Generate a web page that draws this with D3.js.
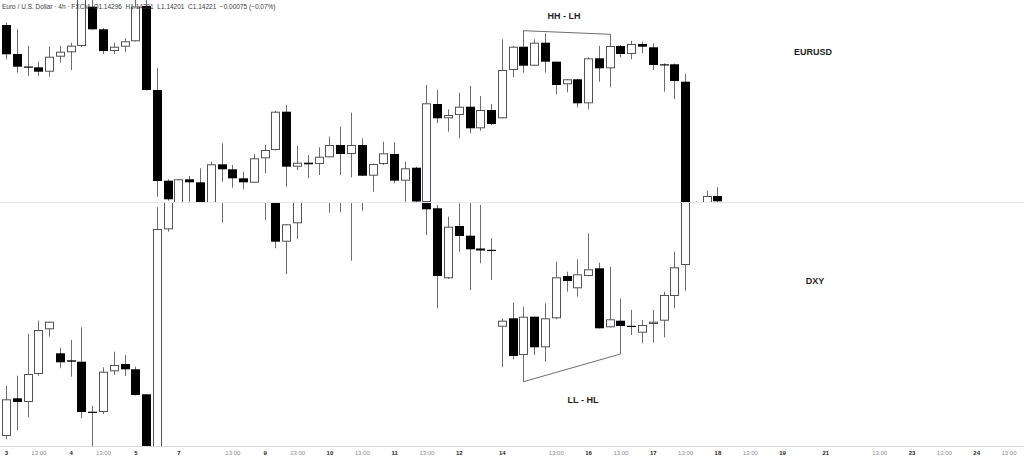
<!DOCTYPE html>
<html><head><meta charset="utf-8">
<script src="https://cdn.jsdelivr.net/npm/d3@7/dist/d3.min.js"></script>
<style>
html,body{margin:0;padding:0;background:#fff;}
svg{display:block;font-family:"Liberation Sans",Arial,Helvetica,sans-serif;}
</style></head>
<body>
<svg id="chart" width="1024" height="458"></svg>
<script>
// ---- data ----
const headerText = "Euro / U.S. Dollar · 4h · FXCM  O1.14296  H1.14301  L1.14201  C1.14221  −0.00075 (−0.07%)";
// x-axis ticks: candle index and label
const tickIndex = [0,3,6,9,12,16,21,24,27,30,33,36,39,42,46,51,54,57,60,63,66,69,72,76,81,84,87,90,93];
const tickLabels = ["3","13:00","4","13:00","5","7","13:00","9","13:00","10","13:00","11","13:00","12","14","13:00","16","13:00","17","13:00","18","13:00","19","21","13:00","23","13:00","24","13:00"];

// EURUSD 4h OHLC
const eurOpen  = [1.15950,1.15660,1.15535,1.15527,1.15483,1.15633,1.15677,1.15740,1.16133,1.15907,1.15690,1.15733,1.15787,1.16140,1.15300,1.14393,1.14160,1.14407,1.14377,1.14160,1.14557,1.14507,1.14417,1.14373,1.14617,1.14700,1.15083,1.14533,1.14573,1.14560,1.14627,1.14750,1.14660,1.14750,1.14443,1.14560,1.14660,1.14393,1.14523,1.14180,1.15160,1.15017,1.15050,1.15133,1.14917,1.15100,1.15017,1.15500,1.15733,1.15543,1.15773,1.15583,1.15357,1.15407,1.15167,1.15617,1.15517,1.15740,1.15660,1.15760,1.15727,1.15557,1.15557,1.15383,1.13920,1.14140,1.14240];
const eurHigh  = [1.15973,1.15907,1.15740,1.15583,1.15733,1.15740,1.15773,1.16280,1.16250,1.15920,1.15773,1.15817,1.16260,1.16240,1.15517,1.14407,1.14410,1.14440,1.14517,1.14583,1.14767,1.14550,1.14483,1.14660,1.14750,1.15093,1.15150,1.14740,1.14650,1.14727,1.14833,1.14933,1.15073,1.14817,1.14565,1.14783,1.14777,1.14583,1.14533,1.15350,1.15300,1.15107,1.15273,1.15340,1.15240,1.15160,1.15807,1.15740,1.15893,1.15807,1.15867,1.15585,1.15410,1.15410,1.15627,1.15740,1.15840,1.15750,1.15793,1.15783,1.15767,1.15567,1.15565,1.15460,1.14185,1.14293,1.14327];
const eurLow   = [1.15607,1.15473,1.15440,1.15443,1.15433,1.15573,1.15500,1.15730,1.15900,1.15660,1.15660,1.15683,1.15785,1.15295,1.14233,1.14193,1.14140,1.14150,1.14100,1.14140,1.14383,1.14323,1.14307,1.14370,1.14467,1.14695,1.14333,1.14500,1.14420,1.14450,1.14625,1.14450,1.14427,1.14441,1.14283,1.14550,1.14367,1.14183,1.14180,1.14160,1.14967,1.14883,1.14817,1.14867,1.14893,1.14950,1.15015,1.15427,1.15473,1.15540,1.15473,1.15257,1.15277,1.15127,1.15107,1.15383,1.15327,1.15627,1.15607,1.15667,1.15500,1.15283,1.15207,1.13800,1.13880,1.14120,1.14170];
const eurClose = [1.15657,1.15533,1.15530,1.15483,1.15633,1.15683,1.15743,1.16210,1.15907,1.15690,1.15733,1.15787,1.16135,1.15300,1.14390,1.14207,1.14407,1.14377,1.14150,1.14557,1.14507,1.14417,1.14377,1.14617,1.14700,1.15083,1.14533,1.14573,1.14557,1.14633,1.14750,1.14660,1.14750,1.14443,1.14560,1.14667,1.14393,1.14517,1.14185,1.15167,1.15017,1.15050,1.15133,1.14917,1.15100,1.14960,1.15500,1.15733,1.15543,1.15773,1.15583,1.15350,1.15407,1.15167,1.15617,1.15517,1.15740,1.15660,1.15760,1.15733,1.15550,1.15554,1.15390,1.13900,1.14140,1.14240,1.14187];

// DXY 4h OHLC
const dxyOpen  = [97.670,98.047,98.010,98.290,98.737,98.497,98.427,98.413,97.913,97.910,98.317,98.390,98.337,98.087,97.330,99.737,100.080,100.230,100.180,100.330,100.080,100.130,100.230,100.250,100.080,100.050,99.613,99.797,100.080,100.050,100.150,100.070,100.180,100.090,100.110,100.050,100.130,100.080,100.040,100.480,99.947,99.247,99.770,99.673,99.545,99.532,98.763,98.847,98.480,98.863,98.557,98.847,99.270,99.147,99.270,99.347,98.757,98.823,98.772,98.703,98.790,98.823,99.070,99.380,100.080,100.130,100.080];
const dxyHigh  = [98.170,98.273,98.690,98.823,98.815,98.553,98.630,98.757,97.970,98.357,98.513,98.480,98.363,98.090,99.957,100.130,100.330,100.280,100.380,100.350,100.180,100.280,100.310,100.280,100.180,100.130,99.790,100.130,100.180,100.230,100.210,100.230,100.330,100.180,100.150,100.180,100.160,100.130,100.530,100.530,99.980,99.863,99.997,100.003,99.980,99.647,98.847,99.003,98.963,98.865,98.997,99.413,99.313,99.437,99.697,99.403,99.363,99.047,98.930,98.830,98.930,99.113,99.513,100.130,100.230,100.180,100.150];
const dxyLow   = [97.637,97.730,97.857,98.273,98.663,98.347,98.263,97.847,97.510,97.890,98.280,98.270,98.075,97.330,97.280,99.713,100.030,100.050,100.080,100.030,99.803,100.050,100.130,100.030,99.830,99.547,99.290,99.640,100.030,100.020,99.903,99.907,99.423,99.923,100.030,100.020,100.030,100.020,100.030,99.680,98.947,99.240,99.513,99.130,99.397,99.230,98.357,98.437,98.213,98.480,98.413,98.837,99.113,99.063,99.267,98.745,98.755,98.490,98.680,98.597,98.603,98.657,98.947,99.123,100.030,100.040,100.030];
const dxyClose = [98.037,98.010,98.290,98.730,98.813,98.407,98.413,97.910,97.907,98.313,98.380,98.337,98.080,97.430,99.740,100.080,100.230,100.180,100.330,100.080,100.130,100.230,100.250,100.080,100.050,99.613,99.787,100.080,100.050,100.150,100.070,100.180,100.090,100.110,100.050,100.130,100.080,100.040,100.480,99.937,99.270,99.763,99.670,99.537,99.525,99.522,98.823,98.470,98.863,98.557,98.847,99.257,99.220,99.287,99.337,98.747,98.837,98.770,98.768,98.780,98.813,99.080,99.357,100.080,100.130,100.080,100.070];

// annotations: [candle index, price]
const hhLhPath = [[48,1.15733],[48,1.15893],[56,1.15857],[56,1.15740]];
const llHlPath = [[48,98.480],[48,98.213],[57,98.490],[57,98.770]];

// ---- drawing ----
const svg = d3.select("#chart");
const W = 1024;
const topPane = {y0:0, y1:202};
const botPane = {y0:203, y1:446};

const x = d3.scaleLinear().domain([0,93]).range([6,1008.5]);
const yE = d3.scaleLinear().domain([1.1620,1.1418]).range([0,202]);
const yD = d3.scaleLinear().domain([100.00,97.57]).range([203,446]);

const defs = svg.append("defs");
defs.append("clipPath").attr("id","clipTop").append("rect")
  .attr("x",0).attr("y",topPane.y0).attr("width",W).attr("height",topPane.y1-topPane.y0);
defs.append("clipPath").attr("id","clipBot").append("rect")
  .attr("x",0).attr("y",botPane.y0).attr("width",W).attr("height",botPane.y1-botPane.y0);

// separator & bottom axis line
svg.append("line").attr("x1",0).attr("x2",W).attr("y1",202.5).attr("y2",202.5)
  .attr("stroke","#e6e7ea").attr("stroke-width",1);
svg.append("line").attr("x1",0).attr("x2",W).attr("y1",446.5).attr("y2",446.5)
  .attr("stroke","#d9dadd").attr("stroke-width",1);

function drawCandles(g, O, H, L, C, y) {
  const data = O.map((o,i)=>({i, o, h:H[i], l:L[i], c:C[i]}));
  const cg = g.selectAll("g.c").data(data).join("g").attr("class","c");
  cg.append("line")
    .attr("x1",d=>Math.round(x(d.i))+0.5).attr("x2",d=>Math.round(x(d.i))+0.5)
    .attr("y1",d=>y(d.h)).attr("y2",d=>y(d.l))
    .attr("stroke","#6b6d73").attr("stroke-width",1);
  cg.each(function(d){
    const sel = d3.select(this);
    const cx = Math.round(x(d.i));
    const yt = Math.min(y(d.o), y(d.c));
    const yb = Math.max(y(d.o), y(d.c));
    const up = d.c >= d.o;
    if (up) {
      sel.append("rect").attr("x",cx-3.5).attr("y",yt+0.5)
        .attr("width",8).attr("height",Math.max(1,yb-yt-1))
        .attr("fill","#fff").attr("stroke","#505257").attr("stroke-width",1);
    } else {
      sel.append("rect").attr("x",cx-4).attr("y",yt)
        .attr("width",9).attr("height",Math.max(1.2,yb-yt))
        .attr("fill","#000");
    }
  });
}

const gTop = svg.append("g").attr("clip-path","url(#clipTop)");
drawCandles(gTop, eurOpen, eurHigh, eurLow, eurClose, yE);
const gBot = svg.append("g").attr("clip-path","url(#clipBot)");
drawCandles(gBot, dxyOpen, dxyHigh, dxyLow, dxyClose, yD);

// annotation lines
const lineE = d3.line().x(d=>Math.round(x(d[0]))+0.5).y(d=>yE(d[1]));
const lineD = d3.line().x(d=>Math.round(x(d[0]))+0.5).y(d=>yD(d[1]));
svg.append("path").attr("d",lineE(hhLhPath)).attr("fill","none").attr("stroke","#6b6d73").attr("stroke-width",1);
svg.append("path").attr("d",lineD(llHlPath)).attr("fill","none").attr("stroke","#6b6d73").attr("stroke-width",1);

// labels
function label(txt, px, py) {
  svg.append("text").attr("x",px).attr("y",py).attr("text-anchor","middle")
    .attr("dominant-baseline","central")
    .attr("font-size",9).attr("font-weight","bold").attr("fill","#1e1f24").text(txt);
}
label("HH - LH", 564, 16);
label("LL - HL", 583, 400);
label("EURUSD", 813, 51.5);
label("DXY", 815, 280.5);

// header
svg.append("text").attr("x",2).attr("y",6).attr("dominant-baseline","central")
  .attr("font-size",6.5).attr("fill","#3a3b40").attr("xml:space","preserve").text(headerText);

// x axis
const axis = d3.axisBottom(x).tickValues(tickIndex)
  .tickFormat((d,k)=>tickLabels[k]).tickSize(0).tickPadding(0);
const ga = svg.append("g").attr("transform","translate(0,450.5)").call(axis);
ga.select(".domain").remove();
ga.selectAll("text")
  .attr("font-size",6).attr("font-family","'Liberation Sans',Arial,sans-serif")
  .attr("dy","0.71em")
  .attr("fill",(d,k)=>tickLabels[k]==="13:00" ? "#8a8c93" : "#1e1f24")
  .attr("font-weight",(d,k)=>tickLabels[k]==="13:00" ? "normal" : "bold");
</script>
</body></html>
